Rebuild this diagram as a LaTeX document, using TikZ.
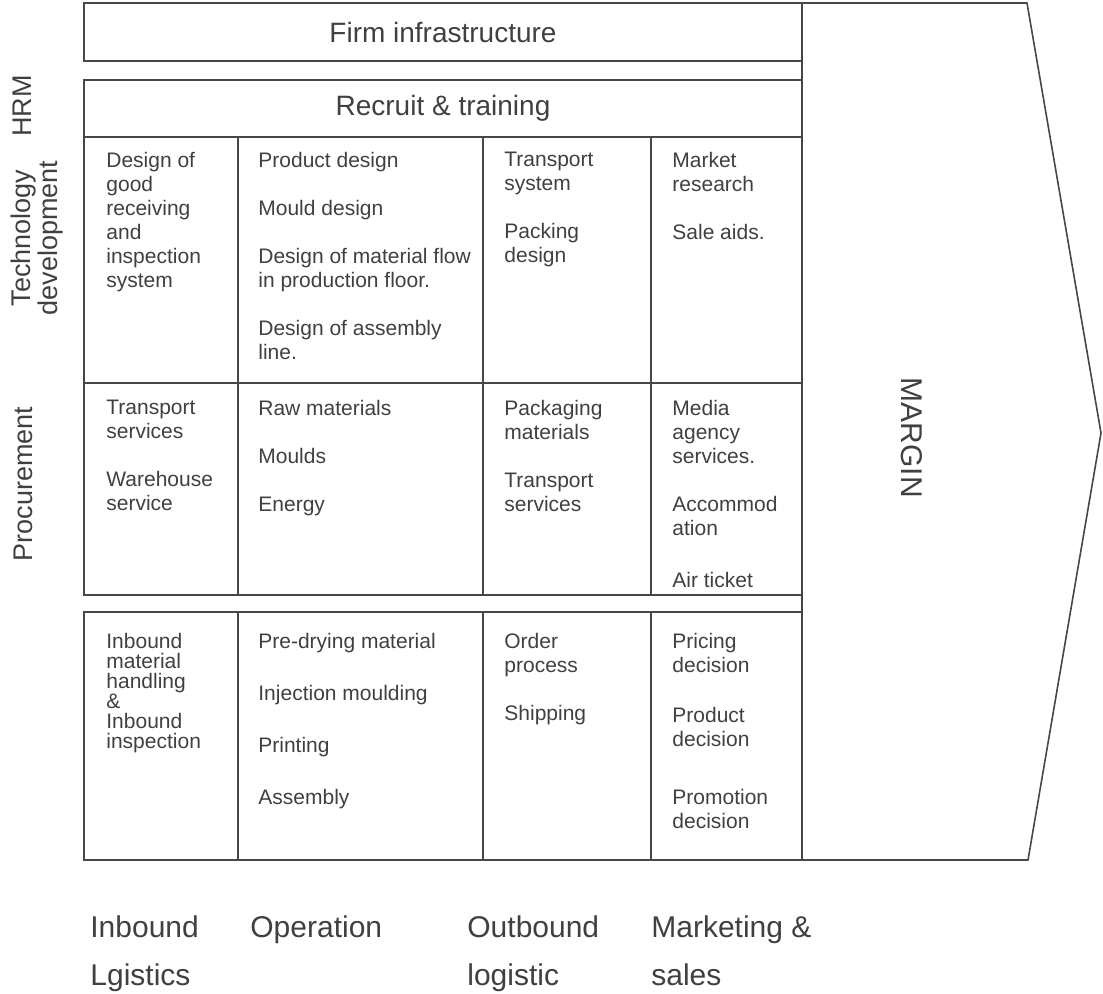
\documentclass[tikz,border=0pt]{standalone}
\usepackage{fontspec}
\setmainfont{Liberation Sans}
\usetikzlibrary{positioning}
\tikzset{
  cellline/.style={draw=black!72, line width=0.8pt},
  bar/.style={rectangle, draw=black!72, line width=0.8pt, minimum width=359pt,
              minimum height=29pt, inner sep=0pt, text=black!75,
              font=\fontsize{14}{16}\selectfont},
  item/.style={anchor=north west, inner sep=0pt, align=left, text=black!75,
               font=\fontsize{10.5}{12}\selectfont},
  tight/.style={item, font=\fontsize{10.5}{10}\selectfont},
  side/.style={rotate=90, align=center, inner sep=0pt, text=black!75,
               font=\fontsize{13.5}{13.5}\selectfont},
  foot/.style={anchor=north west, inner sep=0pt, align=left, text=black!75,
               font=\fontsize{15}{24}\selectfont}
}

\begin{document}
\begin{tikzpicture}[x=0.5pt, y=-0.5pt]
  \useasboundingbox (0,0) rectangle (1103,994);

  % support activities
  \node[bar] (firm) at (443,32) {Firm infrastructure};
  \node[bar, minimum height=28.5pt] (hr) at (443,108.5) {Recruit \& training};

  \draw[cellline] (84,137) rectangle (802,595);
  \draw[cellline] (84,383) -- (802,383);
  \foreach \x in {238,483,651} \draw[cellline] (\x,137) -- (\x,595);

  % primary activities
  \draw[cellline] (84,612) rectangle (802,860);
  \foreach \x in {238,483,651} \draw[cellline] (\x,612) -- (\x,860);

  % margin arrow
  \draw[cellline] (802,3) -- (1027,3) -- (1101,433) -- (1028,860) -- (802,860) -- cycle;
  \node[rotate=-90, inner sep=0pt, text=black!75, font=\fontsize{15}{16}\selectfont]
    (margin) at (912,438) {MARGIN};

  % row labels
  \node[side] (hrm) at (22,106) {HRM};
  \node[side] (tech) at (37,238) {Technology\\development};
  \node[side] (proc) at (23,484) {Procurement};

  % technology development
  \node[item] (t1) at (106,151.5) {Design of\\good\\receiving\\and\\inspection\\system};
  \node[item] (t2) at (258,151.5) {Product design\\[12pt]Mould design\\[12pt]Design of material flow\\in production floor.\\[12pt]Design of assembly\\line.};
  \node[item] (t3) at (504,151.5) {Transport\\system\\[12pt]Packing\\design};
  \node[item] (t4) at (672,151.5) {Market\\research\\[12pt]Sale aids.};

  % procurement
  \node[item] (p1) at (106,399.5) {Transport\\services\\[12pt]Warehouse\\service};
  \node[item] (p2) at (258,399.5) {Raw materials\\[12pt]Moulds\\[12pt]Energy};
  \node[item] (p3) at (504,399.5) {Packaging\\materials\\[12pt]Transport\\services};
  \node[item] (p4) at (672,399.5) {Media\\agency\\services.\\[12pt]Accommod\\ation\\[14pt]Air ticket};

  % primary cells
  \node[tight] (a1) at (106,632.5) {Inbound\\material\\handling\\\&\\Inbound\\inspection};
  \node[item] (a2) at (258,632.5) {Pre-drying material\\[14pt]Injection moulding\\[14pt]Printing\\[14pt]Assembly};
  \node[item] (a3) at (504,632.5) {Order\\process\\[12pt]Shipping};
  \node[item] (a4) at (672,632.5) {Pricing\\decision\\[13pt]Product\\decision\\[17pt]Promotion\\decision};

  % value chain stages
  \node[foot] (inb) at (90,915.5) {Inbound\\Lgistics};
  \node[foot] (ops) at (250,915.5) {Operation};
  \node[foot] (outb) at (467,915.5) {Outbound\\logistic};
  \node[foot] (mkt) at (651,915.5) {Marketing \&\\sales};
\end{tikzpicture}
\end{document}
